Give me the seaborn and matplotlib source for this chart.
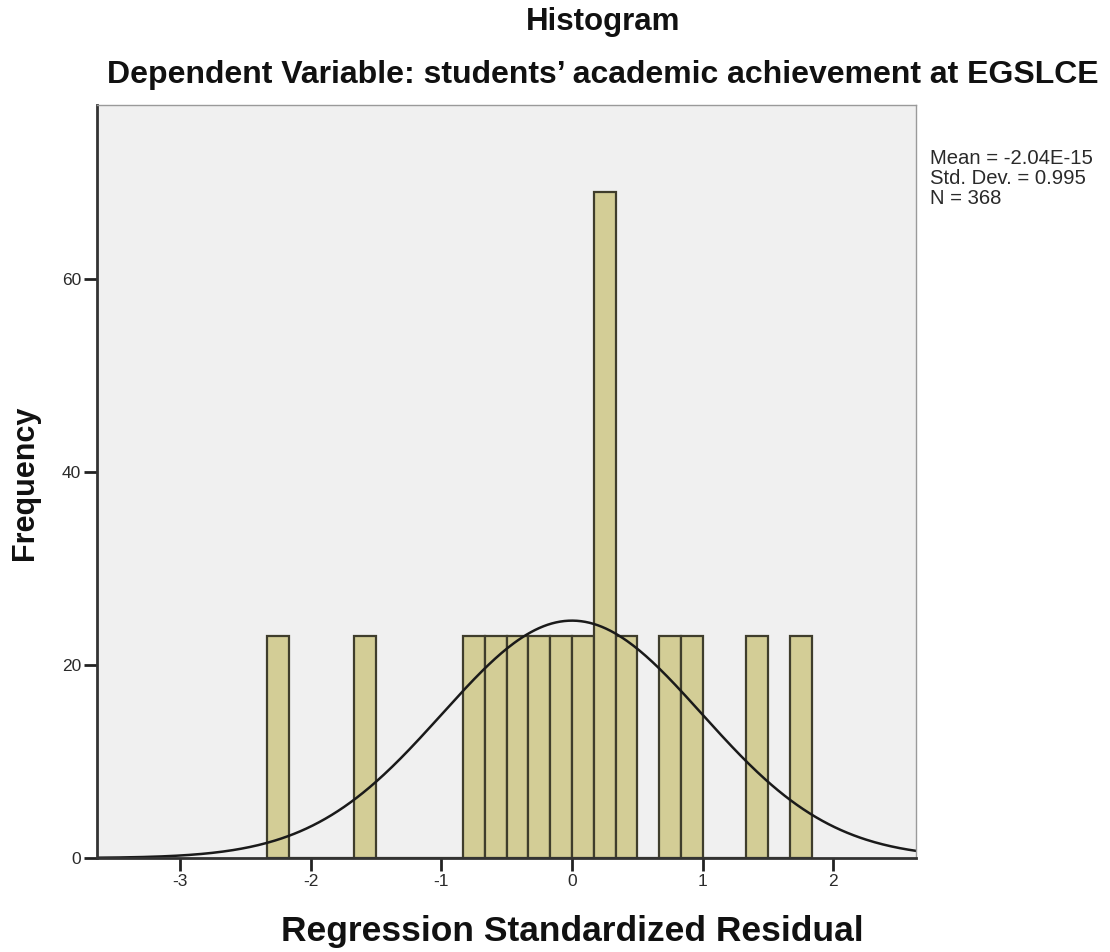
import numpy as np
import pandas as pd
import matplotlib
matplotlib.use("Agg")
import matplotlib.pyplot as plt
import seaborn as sns

# ---- data ----
bin_start = [-2.3333, -1.6667, -0.8333, -0.6667, -0.5, -0.3333, -0.1667, 0.0,
             0.1667, 0.3333, 0.6667, 0.8333, 1.3333, 1.6667]
frequency = [23, 23, 23, 23, 23, 23, 23, 23, 69, 23, 23, 23, 23, 23]
bin_width = 1 / 6
stat_mean = -2.04e-15
stat_sd = 0.995
stat_n = 368
x_ticks = [-3, -2, -1, 0, 1, 2]
y_ticks = [0, 20, 40, 60]

title = "Histogram"
subtitle = "Dependent Variable: students\u2019 academic achievement at EGSLCE"
x_label = "Regression Standardized Residual"
y_label = "Frequency"

sns.set_theme(style="white")
plt.rcParams['font.family'] = ['Liberation Sans', 'DejaVu Sans']

fig = plt.figure(figsize=(11.10, 9.52), dpi=100)
ax = fig.add_axes([0.0874, 0.0987, 0.7378, 0.7910])
ax.set_facecolor("#F0F0F0")

df = pd.DataFrame({"resid": np.array(bin_start) + bin_width / 2,
                   "freq": frequency})
sns.histplot(data=df, x="resid", weights="freq", binwidth=bin_width,
             binrange=(bin_start[0], bin_start[-1] + bin_width), ax=ax,
             color="#D3CD96", alpha=1.0, edgecolor="#3F3D2C", linewidth=1.6)

# fitted normal curve
xs = np.linspace(-3.7, 2.7, 400)
ys = stat_n * bin_width * np.exp(-0.5 * ((xs - stat_mean) / stat_sd) ** 2) / (stat_sd * np.sqrt(2 * np.pi))
sns.lineplot(x=xs, y=ys, ax=ax, color="#1A1A1A", linewidth=1.8)

ax.set_xlim(-3.634, 2.632)
ax.set_ylim(0, 78.0)
ax.set_xticks(x_ticks)
ax.set_yticks(y_ticks)
ax.set_xticklabels([str(t) for t in x_ticks], fontsize=12.5, color="#2A2A2A")
ax.set_yticklabels([str(t) for t in y_ticks], fontsize=12.5, color="#2A2A2A")
ax.tick_params(axis="both", which="both", direction="out", length=9.5, width=2.0,
               color="#222222", bottom=True, left=True, pad=2)

for side in ["left", "bottom"]:
    ax.spines[side].set_color("#333333")
    ax.spines[side].set_linewidth(2.0)
for side in ["top", "right"]:
    ax.spines[side].set_color("#9A9A9A")
    ax.spines[side].set_linewidth(1.0)

ax.set_xlabel(x_label, fontsize=25.5, fontweight="bold", color="#111111")
ax.xaxis.set_label_coords(0.58, -0.097)
ax.xaxis.label.set_va("center")
ax.set_ylabel(y_label, fontsize=22, fontweight="bold", color="#111111")
ax.yaxis.set_label_coords(-0.088, 0.498)
ax.yaxis.label.set_va("center")

fig.text(0.543, 0.977, title, ha="center", va="center", fontsize=22.5,
         fontweight="bold", color="#111111")
fig.text(0.543, 0.921, subtitle, ha="center", va="center", fontsize=23,
         fontweight="bold", color="#111111")

fig.text(0.838, 0.843, f"Mean = -2.04E-15\nStd. Dev. = {stat_sd}\nN = {stat_n}",
         ha="left", va="top", fontsize=14.6, color="#2A2A2A", linespacing=1.05)

fig.savefig("out.png", dpi=100, facecolor="white")
